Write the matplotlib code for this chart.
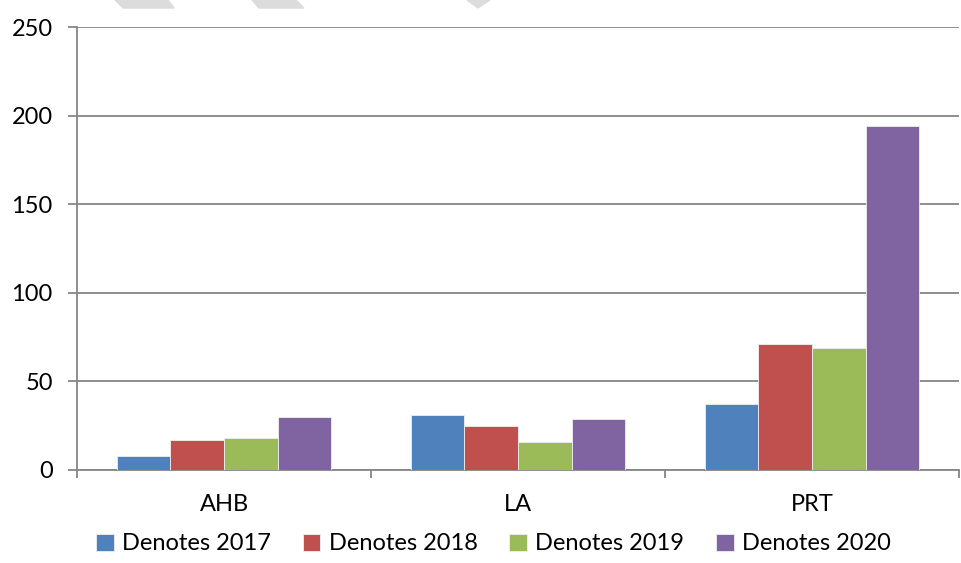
import numpy as np
import matplotlib.pyplot as plt
from matplotlib.patches import Polygon

plt.rcParams['font.family'] = ['Lato', 'DejaVu Sans']

# data
categories = ['AHB', 'LA', 'PRT']
series_names = ['Denotes 2017', 'Denotes 2018', 'Denotes 2019', 'Denotes 2020']
vals_2017 = [8, 31, 37]
vals_2018 = [17, 25, 71]
vals_2019 = [18, 16, 69]
vals_2020 = [30, 29, 194]
colors = ['#4F81BD', '#C0504D', '#9BBB59', '#8064A2']

fig = plt.figure(figsize=(9.61, 5.63), dpi=100)
ax = fig.add_axes([77/961, 1 - 470/563, 882/961, 443/563])

x = np.arange(len(categories))
w = 0.182
all_vals = [vals_2017, vals_2018, vals_2019, vals_2020]
for i, (vals, name, c) in enumerate(zip(all_vals, series_names, colors)):
    ax.bar(x + (i - 1.5) * w, vals, width=w, color=c, label=name,
           edgecolor='#f0f0f0', linewidth=0.6, zorder=3)

grey = '#868686'
ax.set_xlim(-0.5, 2.5)
ax.set_ylim(0, 250)
ax.set_yticks(range(0, 251, 50))
ax.yaxis.grid(True, color=grey, linewidth=1.3, zorder=0)
ax.set_xticks(x)
ax.set_xticklabels(categories)
ax.set_xticks([-0.5, 0.5, 1.5, 2.5], minor=True)
ax.tick_params(axis='x', which='major', length=0, pad=17, labelsize=17)
ax.tick_params(axis='x', which='minor', length=6, width=1.3, color=grey)
ax.tick_params(axis='y', length=6.5, width=1.3, color=grey, pad=11, labelsize=17)

for s in ['top', 'right']:
    ax.spines[s].set_visible(False)
for s in ['left', 'bottom']:
    ax.spines[s].set_color(grey)
    ax.spines[s].set_linewidth(1.3)

fig.legend(loc='center', bbox_to_anchor=(493.5/961, 1 - 544/563), ncol=4, frameon=False,
           fontsize=17, handlelength=0.75, handleheight=0.75, handletextpad=0.35,
           columnspacing=1.35, borderaxespad=0)

# faint watermark fragments at the top edge
H = 563
for pts in [[(115, 0), (168, 0), (174, 8), (123, 8)],
            [(252, 0), (296, 0), (304, 8), (259, 8)],
            [(467, 0), (490, 0), (478, 8)]]:
    fig.patches.append(Polygon([(px/961, 1 - py/H) for px, py in pts], closed=True,
                               transform=fig.transFigure, color='#dcdcdc', zorder=0))

fig.savefig('out.png', dpi=100)
